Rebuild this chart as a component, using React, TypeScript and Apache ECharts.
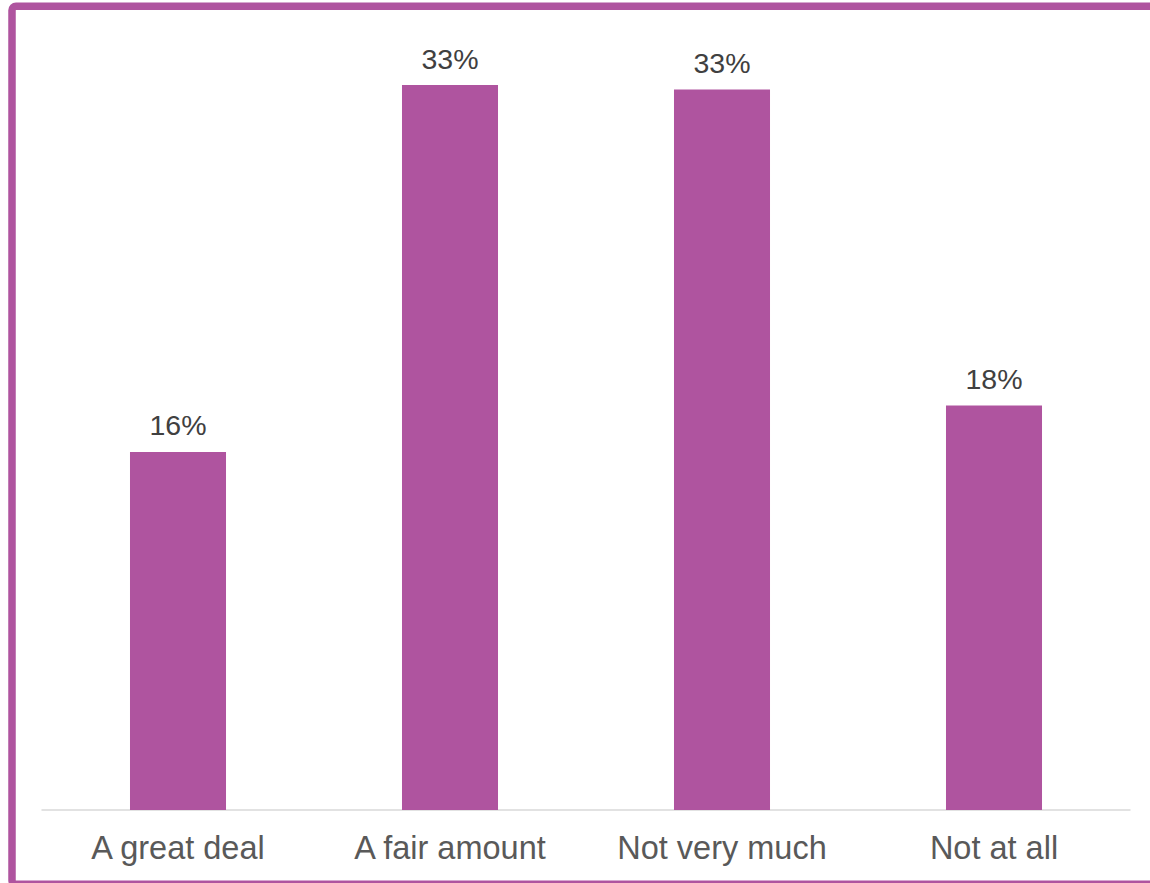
import React, { useEffect, useRef } from "react";
import * as echarts from "echarts";

const categories = ["A great deal", "A fair amount", "Not very much", "Not at all"];
const values = [16.2, 32.8, 32.6, 18.3];

const BAR_COLOR = "#AF549F";

export default function App() {
  const ref = useRef<HTMLDivElement>(null);
  useEffect(() => {
    if (!ref.current) return;
    const chart = echarts.init(ref.current, null, { renderer: "svg" });
    chart.setOption({
      animation: false,
      backgroundColor: "#ffffff",
      grid: { left: 42, right: 20, top: 36.5, bottom: 73, containLabel: false },
      xAxis: {
        type: "category",
        data: categories,
        axisLine: { show: true, lineStyle: { color: "#D9D9D9", width: 1.5 } },
        axisTick: { show: false },
        axisLabel: {
          color: "#595959",
          fontSize: 32.5,
          fontFamily: "Liberation Sans, Arial, sans-serif",
          margin: 21,
          interval: 0,
        },
      },
      yAxis: {
        type: "value",
        min: 0,
        max: 35,
        show: false,
        splitLine: { show: false },
      },
      series: [
        {
          type: "bar",
          data: values,
          barWidth: "35.3%",
          itemStyle: { color: BAR_COLOR },
          label: {
            show: true,
            position: "top",
            distance: 12,
            color: "#404040",
            fontSize: 28.5,
            fontFamily: "Liberation Sans, Arial, sans-serif",
            formatter: (p: any) => Math.round(p.value) + "%",
          },
        },
      ],
      graphic: [
        {
          type: "rect",
          shape: { x: 12, y: 6.3, width: 1200, height: 878, r: 4 },
          style: { fill: "none", stroke: BAR_COLOR, lineWidth: 7.5 },
          silent: true,
          z: 100,
        },
      ],
    });
    return () => chart.dispose();
  }, []);
  return (
    <div
      ref={ref}
      style={{ position: "absolute", left: 0, top: 0, width: 1150, height: 883 }}
    />
  );
}
